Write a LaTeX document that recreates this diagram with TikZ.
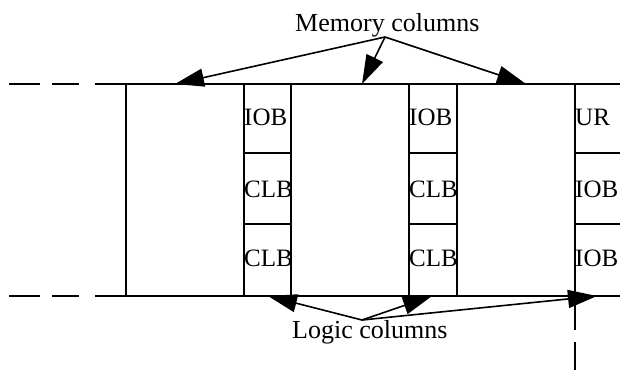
\documentclass[tikz,border=0pt]{standalone}
\usepackage{fontspec}
\setmainfont{Liberation Serif}
\usetikzlibrary{arrows.meta}
\tikzset{
  wire/.style={line width=2pt,black},
  pointer/.style={line width=1.6pt,black,-{Triangle[length=29pt,width=18pt]}},
  cell/.style={inner sep=0pt,anchor=base west,font=\fontsize{25}{25}\selectfont},
  caption/.style={inner sep=0pt,anchor=base west,font=\fontsize{26}{26}\selectfont}
}
\begin{document}
\begin{tikzpicture}[x=1pt,y=-1pt]
\useasboundingbox (0,0) rectangle (620,370);
% frame lines
\draw[wire] (9,84) -- (40,84) (52,84) -- (79,84) (95,84) -- (620,84);
\draw[wire] (9,296) -- (40,296) (52,296) -- (79,296) (95,296) -- (620,296);
% columns
\foreach \x in {126,244,291,409,457}{\draw[wire] (\x,84) -- (\x,296);}
\draw[wire] (575,84) -- (575,330) (575,342) -- (575,370);
% dividers
\foreach \y in {153,224}{
  \draw[wire] (244,\y) -- (291,\y);
  \draw[wire] (409,\y) -- (457,\y);
  \draw[wire] (575,\y) -- (620,\y);
}
% cell labels
\node[cell] (a1) at (244,125) {IOB};
\node[cell] (a2) at (244,197) {CLB};
\node[cell] (a3) at (244,266) {CLB};
\node[cell] (b1) at (409,125) {IOB};
\node[cell] (b2) at (409,197) {CLB};
\node[cell] (b3) at (409,266) {CLB};
\node[cell] (c1) at (575,125) {UR};
\node[cell] (c2) at (575,197) {IOB};
\node[cell] (c3) at (575,266) {IOB};
% captions
\node[caption] (mem) at (295,31) {Memory columns};
\node[caption] (log) at (292,338) {Logic columns};
% pointers
\coordinate (mapex) at (385,37);
\coordinate (m1) at (175,84);
\coordinate (m2) at (362,84);
\coordinate (m3) at (526,84);
\coordinate (lapex) at (362,320);
\coordinate (l1) at (268,296);
\coordinate (l2) at (432,296);
\coordinate (l3) at (597,296);
\draw[pointer] (mapex) -- (m1);
\draw[pointer] (mapex) -- (m2);
\draw[pointer] (mapex) -- (m3);
\draw[pointer] (lapex) -- (l1);
\draw[pointer] (lapex) -- (l2);
\draw[pointer] (lapex) -- (l3);
\end{tikzpicture}
\end{document}
